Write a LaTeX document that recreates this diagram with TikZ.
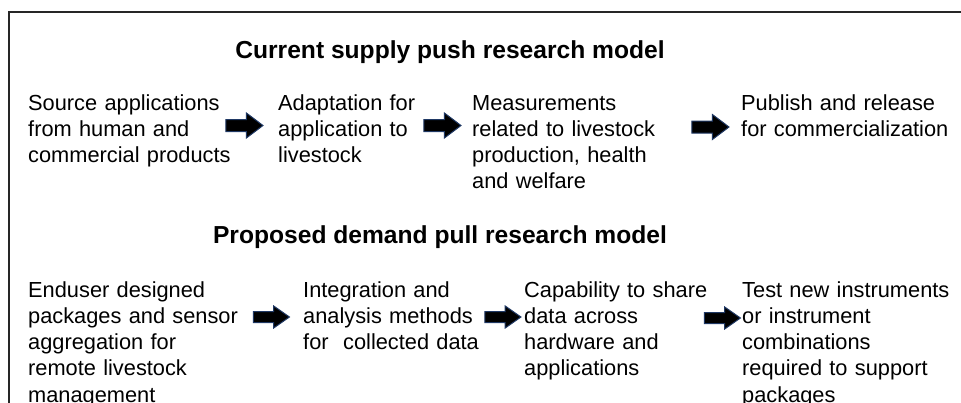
\documentclass[tikz,border=0pt]{standalone}
\usepackage{fontspec}
\setmainfont{Liberation Sans}
\usepackage{tikz}
\usetikzlibrary{shapes.arrows, positioning}
\definecolor{ArrowEdge}{RGB}{31,56,100}
\tikzstyle{stage} = [anchor=base west, inner sep=0pt, text width=235pt, align=left, font=\fontsize{21.8}{26.3}\selectfont]
\tikzstyle{heading} = [anchor=base, inner sep=0pt, font=\fontsize{24.6}{28}\selectfont\bfseries]
\tikzstyle{push} = [single arrow, draw=ArrowEdge, fill=black, line width=1pt, inner xsep=0pt, inner ysep=5.5pt, single arrow tip angle=74, single arrow head extend=6.5pt, minimum height=37pt, minimum width=0pt]
\tikzstyle{pull} = [push, inner ysep=5pt, single arrow tip angle=70, single arrow head extend=5.5pt, minimum height=36pt]

\begin{document}
\begin{tikzpicture}[x=1pt, y=-1pt]
  \useasboundingbox (0,0) rectangle (961,402);
  \draw [line width=1.8pt, black!85] (9,403) -- (9,12) -- (962,12);

  % current model
  \node (curtitle) [heading] at (450,58) {Current supply push research model};
  \node (source) [stage] at (28,110) {Source applications\\from human and\\commercial products};
  \node (adapt) [stage] at (278,110) {Adaptation for\\application to\\livestock};
  \node (measure) [stage] at (472,110) {Measurements\\related to livestock\\production, health\\and welfare};
  \node (publish) [stage] at (741,110) {Publish and release\\for commercialization};
  \node (push1) [push] at (240.5,125.5) {};
  \node (push2) [push] at (438.5,125.5) {};
  \node (push3) [push] at (706.5,127) {};

  % proposed model
  \node (proptitle) [heading] at (440,243) {Proposed demand pull research model};
  \node (enduser) [stage] at (28,297) {Enduser designed\\packages and sensor\\aggregation for\\remote livestock\\management};
  \node (integrate) [stage] at (303,297) {Integration and\\analysis methods\\for\ \ collected data};
  \node (share) [stage] at (524,297) {Capability to share\\data across\\hardware and\\applications};
  \node (testnew) [stage] at (742,297) {Test new instruments\\or instrument\\combinations\\required to support\\packages};
  \node (pull1) [pull] at (267.5,317) {};
  \node (pull2) [pull] at (499,317) {};
  \node (pull3) [pull] at (718.5,318) {};
\end{tikzpicture}
\end{document}
